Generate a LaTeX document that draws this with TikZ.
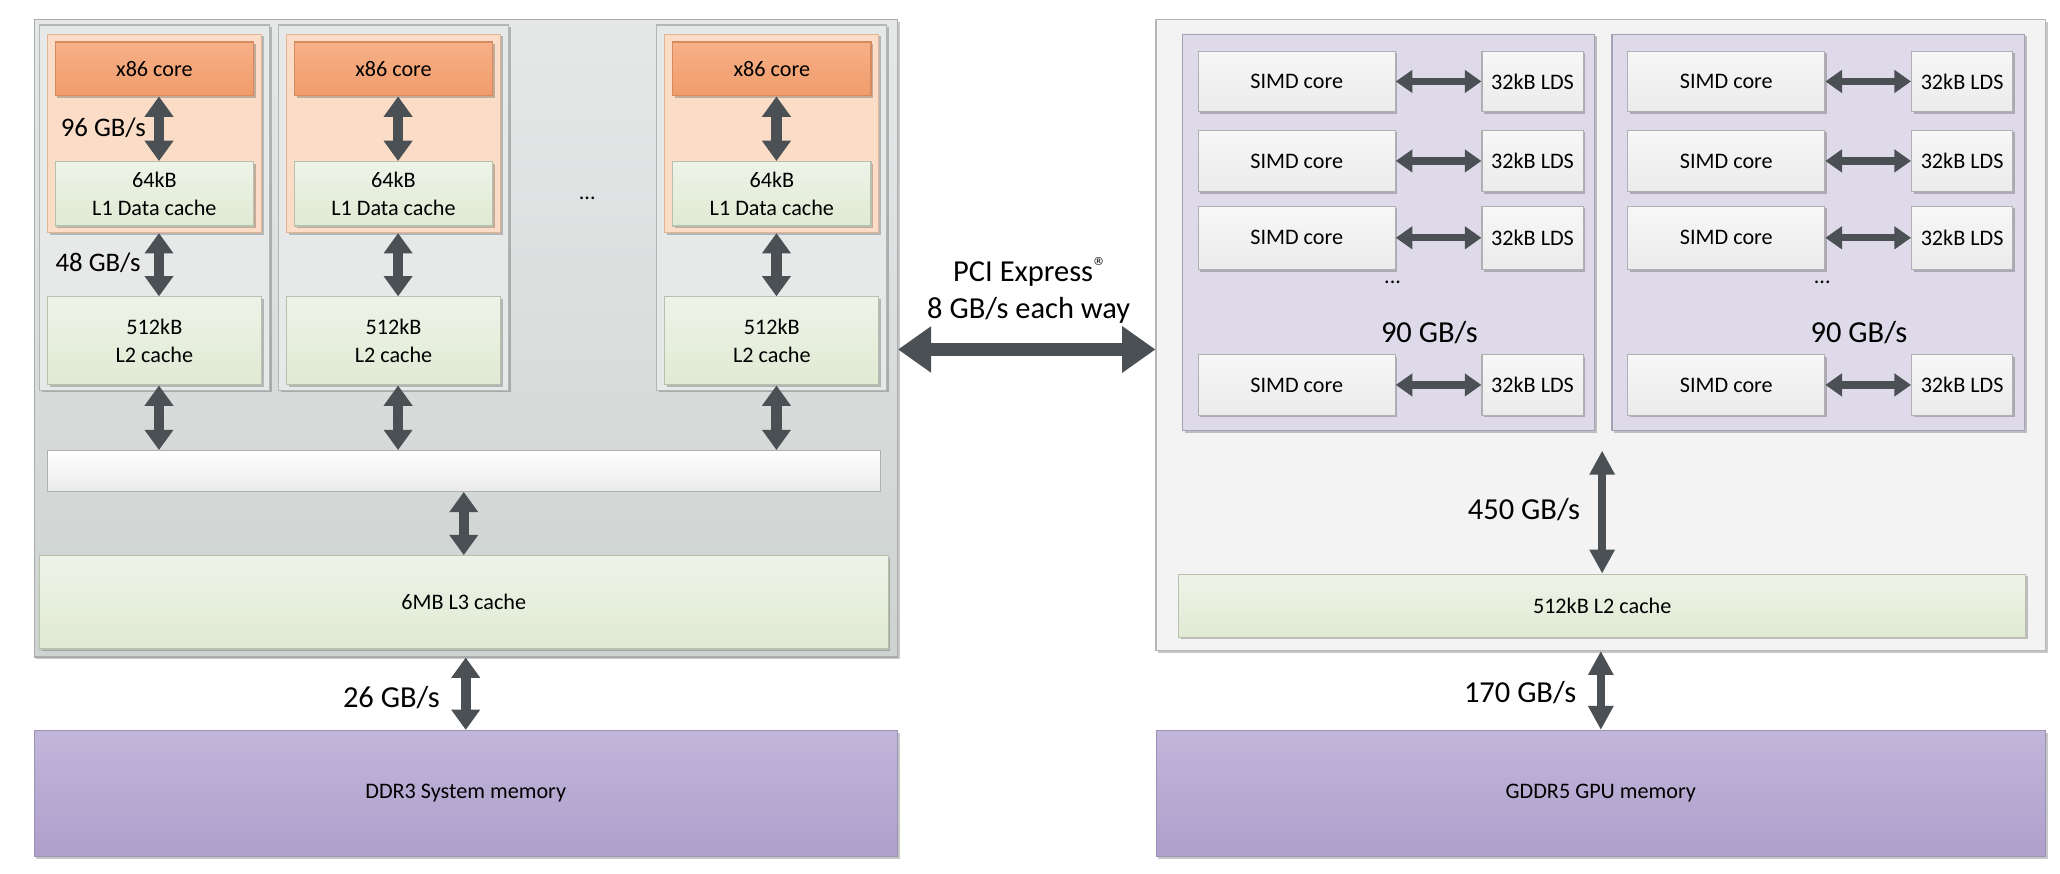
\documentclass[tikz,border=0pt]{standalone}
\usepackage{fontspec}
\setmainfont{Carlito}
\newfontfamily\symfont{DejaVu Sans}
\usetikzlibrary{arrows.meta,shadows}
\definecolor{arr}{HTML}{4A5054}
\definecolor{cpuT}{HTML}{E6E8E8}
\definecolor{cpuB}{HTML}{CDD3D1}
\definecolor{cpuD}{HTML}{A8ADAB}
\definecolor{colF}{HTML}{E7E8E8}
\definecolor{colD}{HTML}{B3B7B6}
\definecolor{orgF}{HTML}{FBDCC6}
\definecolor{orgD}{HTML}{E2B597}
\definecolor{coreT}{HTML}{F7B088}
\definecolor{coreB}{HTML}{F09C6A}
\definecolor{coreD}{HTML}{D58B5F}
\definecolor{grnT}{HTML}{EEF3E8}
\definecolor{grnB}{HTML}{E0EAD3}
\definecolor{grnD}{HTML}{B7C1AD}
\definecolor{memT}{HTML}{C1B6DA}
\definecolor{memB}{HTML}{AE9FCB}
\definecolor{memD}{HTML}{9C92B4}
\definecolor{gpuF}{HTML}{F2F3F2}
\definecolor{gpuD}{HTML}{B5B7B6}
\definecolor{cuF}{HTML}{DEDAE9}
\definecolor{cuD}{HTML}{A6A2B5}
\definecolor{simT}{HTML}{F7F7F7}
\definecolor{simB}{HTML}{EBEBEB}
\definecolor{simD}{HTML}{B0B0B0}
\tikzset{
  shd/.style={drop shadow={shadow xshift=1.2pt,shadow yshift=-1.2pt,opacity=0.22,fill=black}},
  cpuouter/.style={draw=cpuD,line width=0.7pt,top color=cpuT,bottom color=cpuB,shd},
  colbox/.style={draw=colD,line width=0.6pt,fill=colF,shd},
  orgbox/.style={draw=orgD,line width=0.6pt,fill=orgF,shd},
  corebox/.style={draw=coreD,line width=0.6pt,top color=coreT,bottom color=coreB,shd},
  grnbox/.style={draw=grnD,line width=0.6pt,top color=grnT,bottom color=grnB,shd,align=center},
  barbox/.style={draw=simD,line width=0.6pt,top color=white,bottom color=simB},
  membox/.style={draw=memD,line width=0.6pt,top color=memT,bottom color=memB,shd},
  gpuouter/.style={draw=gpuD,line width=0.7pt,fill=gpuF,shd},
  cubox/.style={draw=cuD,line width=0.6pt,fill=cuF,shd},
  simbox/.style={draw=simD,line width=0.6pt,top color=simT,bottom color=simB,shd},
  varrow/.style={draw=arr,line width=5.5pt,{Triangle[width=15pt,length=11pt]}-{Triangle[width=15pt,length=11pt]}},
  garrow/.style={draw=arr,line width=4pt,{Triangle[width=13pt,length=13pt]}-{Triangle[width=13pt,length=13pt]}},
  harrow/.style={draw=arr,line width=4pt,{Triangle[width=12pt,length=9pt]}-{Triangle[width=12pt,length=9pt]}},
  parrow/.style={draw=arr,line width=7pt,{Triangle[width=24pt,length=18pt]}-{Triangle[width=24pt,length=18pt]}},
  lblS/.style={font=\fontsize{14.5}{17}\selectfont},
  lblL/.style={font=\fontsize{16.5}{20}\selectfont},
}
% box: style, name, x1, y1, x2, y2, text (picture units, y downwards)
\newcommand\bx[7]{%
  \pgfmathsetmacro\bxw{((#5)-(#3))*0.025}%
  \pgfmathsetmacro\bxh{((#6)-(#4))*0.025}%
  \pgfmathsetmacro\bxcx{((#3)+(#5))/2}%
  \pgfmathsetmacro\bxcy{((#4)+(#6))/2}%
  \node[#1,minimum width=\bxw cm,minimum height=\bxh cm,anchor=center] (#2) at (\bxcx,\bxcy) {#7};}
\begin{document}
\begin{tikzpicture}[x=0.025cm,y=-0.025cm,every node/.style={font=\fontsize{12}{15}\selectfont,inner sep=0pt}]
\useasboundingbox (0,0) rectangle (1568,665);
\fill[white] (0,0) rectangle (1568,665);

% ---------------- CPU ----------------
\bx{cpuouter}{cpu}{26}{15}{683}{500}{}
\bx{barbox}{bar}{36}{343}{670}{374}{}
\foreach \x/\n in {30/a,212/b,500/c}{
  \bx{colbox}{col\n}{\x}{19}{\x+175}{297}{}
  \bx{orgbox}{org\n}{\x+6}{26}{\x+169}{177}{}
  \bx{corebox}{core\n}{\x+12}{32}{\x+163}{73}{x86 core}
  \bx{grnbox}{lone\n}{\x+12}{123}{\x+163}{172}{64kB\\L1 Data cache}
  \bx{grnbox}{ltwo\n}{\x+6}{226}{\x+169}{293}{512kB\\L2 cache}
  \draw[varrow] ([xshift=2.5pt]core\n.south) -- ([xshift=2.5pt]lone\n.north);
  \draw[varrow] ([xshift=2.5pt]org\n.south) -- ([xshift=2.5pt]ltwo\n.north);
  \draw[varrow] ([xshift=2.5pt]ltwo\n.south) -- ([xshift=2.5pt]ltwo\n.south |- bar.north);
}
\node (cdots) at (447,151) {...};
\node[lblS,anchor=west] (l96) at (46,97) {96 GB/s};
\node[lblS,anchor=west] (l48) at (42,200) {48 GB/s};
\bx{grnbox}{lthree}{30}{423}{676}{494}{6MB L3 cache}
\draw[varrow] (bar.south) -- (lthree.north);

\bx{membox}{ddr}{26}{556}{683}{652}{DDR3 System memory}
\draw[varrow] (cpu.south) -- (ddr.north);
\node[lblL,anchor=east] (l26) at (335,531) {26 GB/s};

% ---------------- PCI ----------------
\bx{gpuouter}{gpu}{880}{15}{1557}{495}{}
\coordinate (pci) at (783,266);
\draw[parrow] (cpu.east |- pci) -- (gpu.west |- pci);
\node[lblL] (pcit) at (783,207) {PCI Express\raisebox{0.55em}{\symfont\fontsize{6}{7}\selectfont ®}};
\node[lblL] (pcib) at (783,236) {8 GB/s each way};

% ---------------- GPU ----------------
\foreach \x/\n in {900/a,1227/b}{
  \bx{cubox}{cu\n}{\x}{26}{\x+314}{328}{}
  \foreach \ya/\yb/\r in {39/85/1,99/146/2,157/205/3,270/316/4}{
    \bx{simbox}{simd\n\r}{\x+12}{\ya}{\x+162}{\yb}{SIMD core}
    \bx{simbox}{lds\n\r}{\x+228}{\ya}{\x+305}{\yb}{32kB LDS}
    \draw[harrow] (simd\n\r.east) -- (lds\n\r.west);
  }
  \node (gdots\n) at ({\x+160},215) {...};
  \node[lblL] (g90\n) at ({\x+188},253) {90 GB/s};
}
\bx{grnbox}{gltwo}{897}{437}{1542}{485}{512kB L2 cache}
\coordinate (cutop) at (1219.5,343);
\draw[garrow] (cutop) -- (gltwo.north);
\node[lblL,anchor=east] (l450) at (1203,388) {450 GB/s};

\bx{membox}{gddr}{880}{556}{1557}{652}{GDDR5 GPU memory}
\draw[garrow] (gpu.south) -- (gddr.north);
\node[lblL,anchor=east] (l170) at (1200,527) {170 GB/s};
\end{tikzpicture}
\end{document}
